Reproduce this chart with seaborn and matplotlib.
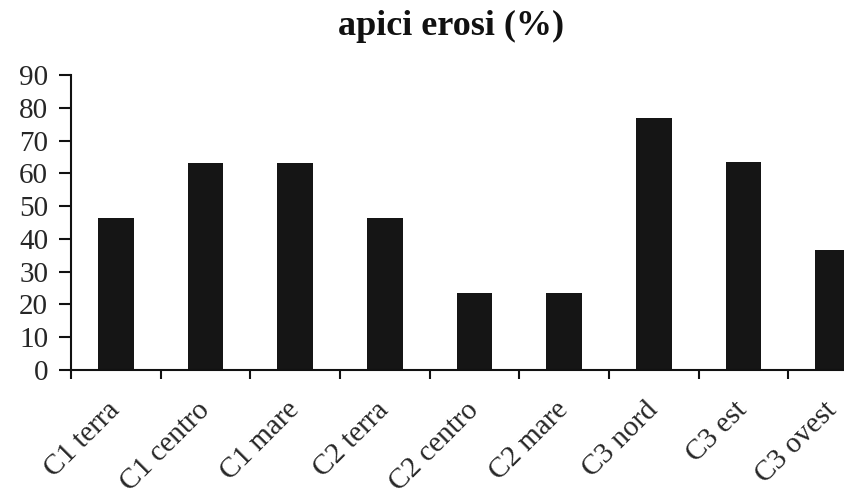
import numpy as np
import pandas as pd
import matplotlib
matplotlib.use("Agg")
import matplotlib.pyplot as plt
import seaborn as sns

# Share of eroded apices per site
categories = ["C1 terra", "C1 centro", "C1 mare", "C2 terra", "C2 centro",
              "C2 mare", "C3 nord", "C3 est", "C3 ovest"]
values = [46.5, 63, 63, 46.5, 23.5, 23.5, 77, 63.5, 36.5]
y_ticks = [0, 10, 20, 30, 40, 50, 60, 70, 80, 90]
title = "apici erosi (%)"

df = pd.DataFrame({"sito": categories, "apici": values})

sns.set_style("white")
plt.rcParams["font.family"] = ["Liberation Serif", "DejaVu Serif"]

W, H = 844, 503
fig = plt.figure(figsize=(W / 100, H / 100), dpi=100)
ax = fig.add_axes([71 / W, 1 - 370 / H, 807 / W, 295 / H])

sns.barplot(data=df, x="sito", y="apici", color="#151515", width=0.4,
            saturation=1, ax=ax, edgecolor="#151515", linewidth=0)

ax.set_xlim(-0.5, len(categories) - 0.5)
ax.set_ylim(0, 90)
ax.set_yticks(y_ticks)
ax.set_xlabel("")
ax.set_ylabel("")

for s in ["top", "right"]:
    ax.spines[s].set_visible(False)
for s in ["left", "bottom"]:
    ax.spines[s].set_linewidth(1.5)
    ax.spines[s].set_color("#111111")

# tick marks between the categories, labels centred under the bars
ax.set_xticks(np.arange(-0.5, len(categories), 1), minor=True)
ax.tick_params(axis="x", which="minor", length=6.5, width=1.5,
               direction="out", color="#111111", bottom=True)
ax.tick_params(axis="x", which="major", length=0, pad=26, labelsize=21,
               bottom=True)
ax.tick_params(axis="y", which="major", length=8.5, width=1.5,
               direction="out", color="#111111", pad=8, labelsize=21,
               left=True)
for lab in ax.get_xticklabels():
    lab.set_rotation(45)
    lab.set_ha("right")
    lab.set_va("center")
    lab.set_rotation_mode("anchor")

fig.text(451 / W, 1 - 26 / H, title, ha="center", va="center",
         fontsize=26, fontweight="bold", color="#111111")

fig.savefig("out.png", dpi=100, facecolor="white")
